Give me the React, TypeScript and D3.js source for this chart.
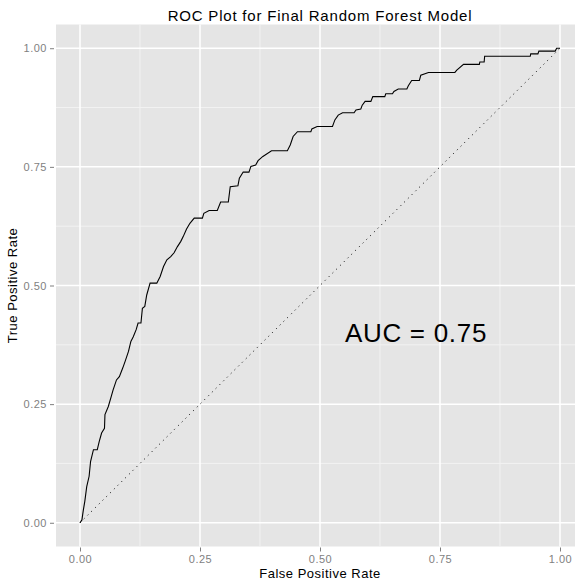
import React, { useRef, useEffect } from 'react';
import * as d3 from 'd3';

// ROC curve points (false positive rate, true positive rate)
const fpr = [
  0.000, 0.004, 0.007, 0.010, 0.014, 0.019, 0.022, 0.028, 0.036, 0.040,
  0.045, 0.051, 0.052, 0.059, 0.065, 0.069, 0.076, 0.082, 0.089, 0.094,
  0.101, 0.106, 0.111, 0.117, 0.121, 0.127, 0.130, 0.135, 0.139, 0.146,
  0.160, 0.167, 0.174, 0.181, 0.189, 0.196, 0.203, 0.210, 0.215, 0.222,
  0.229, 0.238, 0.255, 0.258, 0.269, 0.286, 0.293, 0.309, 0.313, 0.329,
  0.332, 0.340, 0.352, 0.356, 0.366, 0.371, 0.381, 0.399, 0.432, 0.438,
  0.444, 0.453, 0.481, 0.483, 0.494, 0.526, 0.531, 0.538, 0.547, 0.571,
  0.575, 0.585, 0.588, 0.594, 0.606, 0.610, 0.635, 0.637, 0.651, 0.654,
  0.663, 0.681, 0.684, 0.691, 0.707, 0.710, 0.726, 0.781, 0.785, 0.799,
  0.832, 0.833, 0.842, 0.843, 0.938, 0.939, 0.954, 0.956, 0.990, 0.993,
  1.000,
];
const tpr = [
  0.000, 0.006, 0.027, 0.045, 0.076, 0.098, 0.129, 0.154, 0.154, 0.171,
  0.189, 0.199, 0.228, 0.245, 0.266, 0.280, 0.301, 0.308, 0.326, 0.340,
  0.361, 0.382, 0.392, 0.407, 0.421, 0.421, 0.452, 0.456, 0.480, 0.505,
  0.505, 0.519, 0.540, 0.554, 0.561, 0.569, 0.582, 0.593, 0.603, 0.619,
  0.631, 0.642, 0.642, 0.652, 0.658, 0.658, 0.676, 0.676, 0.708, 0.710,
  0.726, 0.739, 0.739, 0.751, 0.754, 0.763, 0.772, 0.784, 0.784, 0.796,
  0.814, 0.824, 0.824, 0.830, 0.835, 0.835, 0.849, 0.859, 0.864, 0.864,
  0.870, 0.872, 0.880, 0.888, 0.888, 0.898, 0.898, 0.904, 0.904, 0.909,
  0.914, 0.914, 0.921, 0.932, 0.932, 0.943, 0.949, 0.949, 0.954, 0.966,
  0.966, 0.971, 0.971, 0.983, 0.983, 0.988, 0.988, 0.994, 0.994, 1.000,
  1.000,
];

const majorTicks = [0, 0.25, 0.5, 0.75, 1];
const minorTicks = [0.125, 0.375, 0.625, 0.875];
const chanceLine = [0, 1];
const aucLabel = 'AUC = 0.75';
const aucPos = [0.7, 0.4];

const FONT = '"Liberation Sans", Arial, Helvetica, sans-serif';

function App() {
  const svgRef = useRef(null);

  useEffect(() => {
    const width = 575;
    const height = 583;
    const panel = { left: 56, top: 24.5, width: 528, height: 522 };

    const svg = d3.select(svgRef.current);
    svg.selectAll('*').remove();

    const x = d3.scaleLinear()
      .domain([-0.05, 1.05])
      .range([panel.left, panel.left + panel.width]);
    const y = d3.scaleLinear()
      .domain([-0.05, 1.05])
      .range([panel.top + panel.height, panel.top]);

    // panel background
    svg.append('rect')
      .attr('x', panel.left)
      .attr('y', panel.top)
      .attr('width', panel.width)
      .attr('height', panel.height)
      .attr('fill', '#e5e5e5');

    // Gridlines
    const grid = svg.append('g');
    minorTicks.forEach(t => {
      grid.append('line')
        .attr('x1', x(t)).attr('x2', x(t))
        .attr('y1', panel.top).attr('y2', panel.top + panel.height)
        .attr('stroke', '#f2f2f2').attr('stroke-width', 1);
      grid.append('line')
        .attr('x1', panel.left).attr('x2', panel.left + panel.width)
        .attr('y1', y(t)).attr('y2', y(t))
        .attr('stroke', '#f2f2f2').attr('stroke-width', 1);
    });
    majorTicks.forEach(t => {
      grid.append('line')
        .attr('x1', x(t)).attr('x2', x(t))
        .attr('y1', panel.top).attr('y2', panel.top + panel.height)
        .attr('stroke', '#ffffff').attr('stroke-width', 1.5);
      grid.append('line')
        .attr('x1', panel.left).attr('x2', panel.left + panel.width)
        .attr('y1', y(t)).attr('y2', y(t))
        .attr('stroke', '#ffffff').attr('stroke-width', 1.5);
    });

    // Axes
    const fmt = d3.format('.2f');
    const xAxis = svg.append('g')
      .attr('transform', `translate(0, ${panel.top + panel.height + 1})`)
      .call(d3.axisBottom(x).tickValues(majorTicks).tickFormat(fmt).tickSize(4).tickPadding(4));
    const yAxis = svg.append('g')
      .attr('transform', `translate(${panel.left - 2}, 0)`)
      .call(d3.axisLeft(y).tickValues(majorTicks).tickFormat(fmt).tickSize(4).tickPadding(3));

    [xAxis, yAxis].forEach(ax => {
      ax.select('.domain').remove();
      ax.selectAll('line').attr('stroke', '#7f7f7f');
      ax.selectAll('text')
        .attr('fill', '#7f7f7f')
        .style('font-family', FONT)
        .style('font-size', '11px')
        .style('letter-spacing', '0.5px');
    });

    // Chance diagonal
    const line = d3.line<number>()
      .x(d => x(d))
      .y(d => y(d));
    svg.append('path')
      .datum(chanceLine)
      .attr('d', line)
      .attr('fill', 'none')
      .attr('stroke', '#000')
      .attr('stroke-width', 1)
      .attr('stroke-dasharray', '1,4.3');

    // ROC curve
    const roc = d3.line<number>()
      .x(d => x(fpr[d]))
      .y(d => y(tpr[d]));
    svg.append('path')
      .datum(d3.range(fpr.length))
      .attr('d', roc)
      .attr('fill', 'none')
      .attr('stroke', '#000')
      .attr('stroke-width', 1.1)
      .attr('stroke-linejoin', 'miter');

    // AUC annotation
    svg.append('text')
      .attr('x', x(aucPos[0]))
      .attr('y', y(aucPos[1]))
      .attr('dy', '0.35em')
      .attr('text-anchor', 'middle')
      .style('font-family', FONT)
      .style('font-size', '26px')
      .style('letter-spacing', '0.7px')
      .attr('fill', '#000')
      .text(aucLabel);

    // Title
    svg.append('text')
      .attr('x', panel.left + panel.width / 2)
      .attr('y', 20.5)
      .attr('text-anchor', 'middle')
      .style('font-family', FONT)
      .style('font-size', '15px')
      .style('letter-spacing', '0.8px')
      .attr('fill', '#000')
      .text('ROC Plot for Final Random Forest Model');

    // Axis titles
    svg.append('text')
      .attr('x', x(0.5))
      .attr('y', 578.3)
      .attr('text-anchor', 'middle')
      .style('font-family', FONT)
      .style('font-size', '13px')
      .style('letter-spacing', '0.5px')
      .attr('fill', '#000')
      .text('False Positive Rate');

    svg.append('text')
      .attr('transform', `translate(16.7, ${panel.top + panel.height / 2}) rotate(-90)`)
      .attr('text-anchor', 'middle')
      .style('font-family', FONT)
      .style('font-size', '13px')
      .style('letter-spacing', '0.5px')
      .attr('fill', '#000')
      .text('True Positive Rate');

    svg.attr('width', width).attr('height', height);
  }, []);

  return (
    <svg
      ref={svgRef}
      width={575}
      height={583}
      style={{ position: 'absolute', left: 0, top: 0, background: '#fff' }}
    />
  );
}

export default App;
